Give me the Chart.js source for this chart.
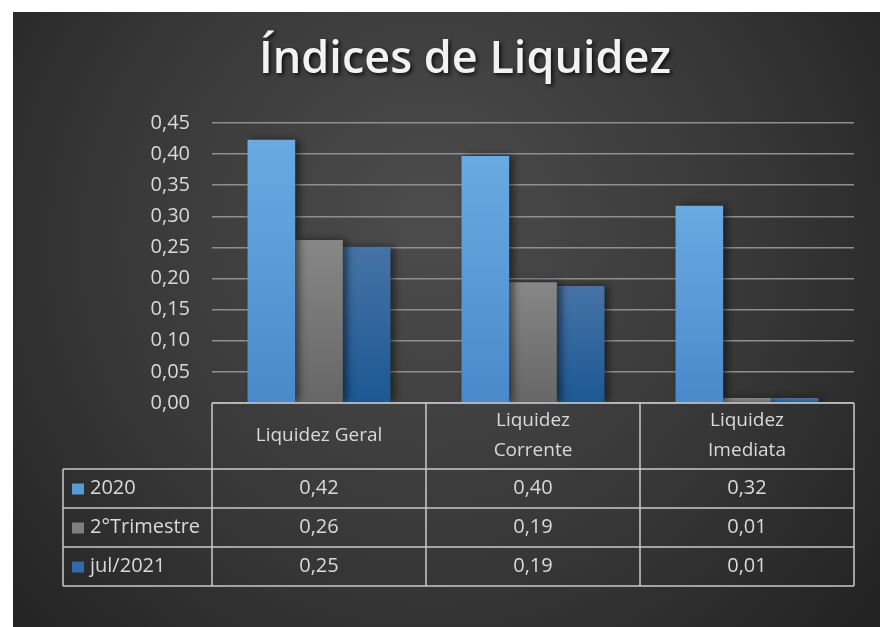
<!DOCTYPE html>
<html>
<head>
<meta charset="utf-8">
<script src="https://cdn.jsdelivr.net/npm/chart.js@4"></script>
<style>
  html, body { margin: 0; padding: 0; background: #fff; }
  #wrap { width: 884px; height: 627px; }
</style>
</head>
<body>
<div id="wrap"><canvas id="liquidezChart" width="884" height="627"></canvas></div>
<script>
// Dados do gráfico
var categorias = [['Liquidez Geral'], ['Liquidez', 'Corrente'], ['Liquidez', 'Imediata']];
var series = ['2020', '2°Trimestre', 'jul/2021'];
var valores2020 = [0.423, 0.397, 0.317];
var valoresTrimestre = [0.262, 0.194, 0.008];
var valoresJul2021 = [0.251, 0.188, 0.008];
var eixoY = { min: 0, max: 0.45, passo: 0.05 };

var fonte = '"Open Sans", "DejaVu Sans", sans-serif';
var corTexto = '#d9d9d9';
var cores = [
    ['#6aaae2', '#4a89ca'],
    ['#878787', '#666666'],
    ['#4673a6', '#1c5893']
];
var coresLegenda = ['#5b9bd5', '#7f7f7f', '#2f6cab'];

function formata(v) {
    return v.toFixed(2).replace('.', ',');
}

// gradiente vertical de cada barra
function gradiente(par) {
    return function (context) {
        var chart = context.chart;
        var area = chart.chartArea;
        if (!area) return par[0];
        var y = chart.scales.y;
        var v = context.raw || 0;
        var topo = y.getPixelForValue(v);
        if (Math.abs(area.bottom - topo) < 1) topo = area.bottom - 1;
        var g = chart.ctx.createLinearGradient(0, topo, 0, area.bottom);
        g.addColorStop(0, par[0]);
        g.addColorStop(1, par[1]);
        return g;
    };
}

var fundo = {
    id: 'fundo',
    beforeDraw: function (chart) {
        var ctx = chart.ctx;
        ctx.save();
        ctx.fillStyle = '#ffffff';
        ctx.fillRect(0, 0, chart.width, chart.height);
        var g = ctx.createRadialGradient(430, 220, 20, 430, 260, 560);
        g.addColorStop(0, '#4b4b4b');
        g.addColorStop(0.55, '#383838');
        g.addColorStop(1, '#232323');
        ctx.fillStyle = g;
        ctx.fillRect(13, 12, 867, 615);

        // titulo
        ctx.font = '600 45px ' + fonte;
        ctx.textAlign = 'center';
        ctx.textBaseline = 'alphabetic';
        ctx.shadowColor = 'rgba(0,0,0,0.8)';
        ctx.shadowBlur = 4;
        ctx.shadowOffsetX = 2;
        ctx.shadowOffsetY = 2;
        ctx.fillStyle = '#f2f2f2';
        ctx.fillText('Índices de Liquidez', 465, 73);
        ctx.restore();
    }
};

var sombra = {
    id: 'sombra',
    beforeDatasetsDraw: function (chart) {
        var ctx = chart.ctx;
        ctx.save();
        ctx.shadowColor = 'rgba(0,0,0,0.55)';
        ctx.shadowBlur = 8;
        ctx.shadowOffsetX = 4;
        ctx.shadowOffsetY = 0;
    },
    afterDatasetsDraw: function (chart) {
        chart.ctx.restore();
    }
};

// tabela de dados abaixo do grafico
var tabela = {
    id: 'tabela',
    afterDraw: function (chart) {
        var ctx = chart.ctx;
        var x = chart.scales.x;
        var area = chart.chartArea;
        var n = categorias.length;
        var larg = (area.right - area.left) / n;
        var esq = 63;
        var topo = area.bottom;
        var altCab = 66;
        var altLinha = 39;
        var linhas = [valores2020, valoresTrimestre, valoresJul2021];
        var fundoTab = topo + altCab + altLinha * linhas.length;

        ctx.save();
        ctx.strokeStyle = '#c9c9c9';
        ctx.lineWidth = 1.5;
        ctx.beginPath();
        // linha superior
        ctx.moveTo(area.left, topo);
        ctx.lineTo(area.right, topo);
        // verticais das categorias
        for (var i = 0; i <= n; i++) {
            var xv = area.left + larg * i;
            ctx.moveTo(xv, topo);
            ctx.lineTo(xv, fundoTab);
        }
        // horizontais das series
        for (var r = 0; r <= linhas.length; r++) {
            var yh = topo + altCab + altLinha * r;
            ctx.moveTo(esq, yh);
            ctx.lineTo(area.right, yh);
        }
        ctx.moveTo(esq, topo + altCab);
        ctx.lineTo(esq, fundoTab);
        ctx.stroke();

        ctx.fillStyle = corTexto;
        ctx.textAlign = 'center';
        ctx.textBaseline = 'middle';
        ctx.font = '19px ' + fonte;
        for (var c = 0; c < n; c++) {
            var cx = x.getPixelForValue(c);
            var linhasCab = categorias[c];
            var cy = topo + altCab / 2;
            var passo = 30;
            for (var k = 0; k < linhasCab.length; k++) {
                var yy = cy + (k - (linhasCab.length - 1) / 2) * passo;
                ctx.fillText(linhasCab[k], cx, yy);
            }
        }

        ctx.font = '20px ' + fonte;
        for (var s = 0; s < linhas.length; s++) {
            var ym = topo + altCab + altLinha * s + altLinha / 2;
            ctx.textAlign = 'center';
            for (var c2 = 0; c2 < n; c2++) {
                ctx.fillText(formata(linhas[s][c2]), x.getPixelForValue(c2), ym);
            }
            ctx.fillStyle = coresLegenda[s];
            ctx.fillRect(72, ym - 5, 12, 11);
            ctx.fillStyle = corTexto;
            ctx.textAlign = 'left';
            ctx.fillText(series[s], 90, ym);
        }
        ctx.restore();
    }
};

var ctx = document.getElementById('liquidezChart').getContext('2d');
var liquidezChart = new Chart(ctx, {
    type: 'bar',
    data: {
        labels: categorias.map(function (c) { return c.join(' '); }),
        datasets: [{
            label: series[0],
            data: valores2020,
            backgroundColor: gradiente(cores[0])
        }, {
            label: series[1],
            data: valoresTrimestre,
            backgroundColor: gradiente(cores[1])
        }, {
            label: series[2],
            data: valoresJul2021,
            backgroundColor: gradiente(cores[2])
        }]
    },
    options: {
        responsive: false,
        animation: false,
        datasets: {
            bar: {
                categoryPercentage: 0.668,
                barPercentage: 1.0,
                borderWidth: 0
            }
        },
        layout: {
            padding: { left: 0, top: 123, right: 30, bottom: 224 }
        },
        plugins: {
            legend: { display: false },
            title: { display: false },
            tooltip: { enabled: false }
        },
        scales: {
            x: {
                display: false
            },
            y: {
                min: eixoY.min,
                max: eixoY.max,
                afterFit: function (scale) { scale.width = 212; },
                ticks: {
                    stepSize: eixoY.passo,
                    padding: 22,
                    color: corTexto,
                    font: { family: fonte, size: 20 },
                    callback: function (v) { return formata(v); }
                },
                border: { display: false },
                grid: {
                    color: '#8f8f8f',
                    lineWidth: 1.5,
                    drawTicks: false
                }
            }
        }
    },
    plugins: [fundo, sombra, tabela]
});
</script>
</body>
</html>
